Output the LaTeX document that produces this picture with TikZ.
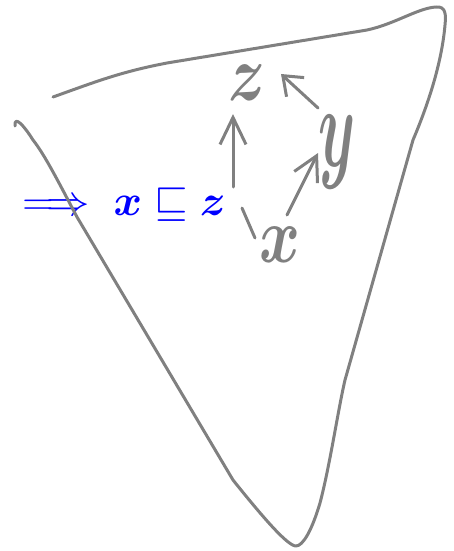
\documentclass[tikz,border=0pt]{standalone}
\usepackage{amsmath}
\usepackage{amssymb}
\usepackage{bm}
\usepackage{xcolor}
\usepackage{tikz}
\usetikzlibrary{arrows.meta}
\definecolor{pencil}{HTML}{808080}
\definecolor{noteblue}{HTML}{0000FF}
\tikzset{
  hand/.style={draw=pencil,line width=3pt,line cap=round,line join=round},
  letter/.style={text=pencil,inner sep=0pt,font=\Huge,xscale=2.5,yscale=3.2},
  note/.style={text=noteblue,inner sep=0pt,font=\Huge,scale=1.74},
  barb/.style={hand,-{Straight Barb[length=#1,width=26pt]}}
}

\begin{document}
\begin{tikzpicture}[x=1pt,y=-1pt]
  \useasboundingbox (0,0) rectangle (453,551);
  % conclusion written beside the sketch
  \node[note,anchor=base] (impl) at (118,215) {$\implies\bm{x}\sqsubseteq\bm{z}$};
  % handwritten order
  \node[letter] (z) at (247,83) {$\bm{z}$};
  \node[letter,xscale=0.95,yscale=1.45] (y) at (337,152) {$\bm{y}$};
  \node[letter] (x) at (280,245) {$\bm{x}$};
  \coordinate (zy) at (281,74);
  \coordinate (yz) at (318,108);
  \coordinate (xy) at (287,215);
  \coordinate (yx) at (318,153);
  \coordinate (xz) at (255,238);
  \coordinate (xzgap) at (242,208);
  \coordinate (zxgap) at (233,187);
  \coordinate (zx) at (233,114);
  \draw[barb=17pt] (yz) -- (zy);
  \draw[barb=24pt] (xy) -- (yx);
  \draw[hand] (xz) -- (xzgap);
  \draw[barb=27pt] (zxgap) -- (zx);
  % outline of the triangle
  \draw[hand] (53,97) .. controls (95,82) and (120,72) .. (167,63)
    -- (367,30)
    .. controls (395,24) and (418,8) .. (436,7)
    .. controls (446,6) and (446,15) .. (445,25)
    .. controls (442,60) and (430,100) .. (413,140)
    -- (345,380)
    .. controls (338,410) and (330,465) .. (320,503)
    .. controls (312,530) and (303,546) .. (296,546)
    .. controls (288,546) and (265,520) .. (233,480)
    -- (77,217)
    .. controls (60,185) and (45,155) .. (33,140)
    .. controls (25,127) and (14,114) .. (15,126);
\end{tikzpicture}
\end{document}
